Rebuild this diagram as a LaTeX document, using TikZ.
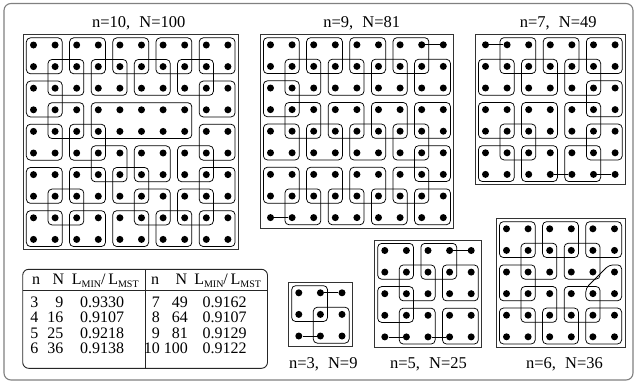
\documentclass[tikz,border=0pt]{standalone}
\usepackage{fontspec}
\setmainfont{Liberation Serif}
\newcommand\QQ[2]{\draw[sq] ({#1-0.33},{#2-0.33}) rectangle ({#1+1.33},{#2+1.33});}
\newcommand\RR[4]{\draw[sq] ({#1-0.33},{#2-0.33}) rectangle ({#3+0.33},{#4+0.33});}
\newcommand\GridDots[2]{%
  \draw[gframe] (0.514,0.514) rectangle ({#2+0.486},{#2+0.486});
  \foreach \c in {1,...,#2}{\foreach \r in {1,...,#2}{\node[pt] (#1-\c-\r) at (\c,\r) {};}}}
\newcommand\SG[5]{\draw[seg] (#1-#2-#3) -- (#1-#4-#5);}
\newcommand\Sb[1]{\raisebox{-3.3pt}{\fontsize{10}{10}\selectfont #1}}
\newcommand\Lhead{L\Sb{MIN}/\,L\Sb{MST}}
\begin{document}
\begin{tikzpicture}[x=1pt,y=-1pt,
  sq/.style={draw=black,line width=0.75pt,rounded corners=4pt},
  seg/.style={draw=black,line width=0.75pt},
  pt/.style={circle,fill=black,inner sep=0pt,minimum size=7pt},
  gframe/.style={draw=black!80,line width=0.9pt},
  oframe/.style={draw=black!50,line width=1.1pt,rounded corners=7pt},
  tframe/.style={draw=black!85,line width=0.9pt,rounded corners=6pt},
  lbl/.style={font=\fontsize{16.5}{18}\selectfont,inner sep=0pt,anchor=base},
  num/.style={font=\fontsize{16}{18}\selectfont,inner sep=0pt},
  gs/.style={x=21.6pt,y=-21.6pt}]
\useasboundingbox (0,0) rectangle (637,383);
\draw[oframe] (4,3.5) rectangle (633,380);
% ---------------- n=10
\begin{scope}[shift={(11.9,23.4)},gs]
\GridDots{a}{10}
\QQ11 \QQ31 \QQ51 \QQ71 \QQ91
\QQ22 \QQ42 \QQ62 \QQ82
\QQ13 \QQ93
\RR4485
\QQ24 \QQ15 \QQ35 \QQ46
\QQ95 \QQ86 \QQ66
\QQ17 \QQ37 \QQ57 \QQ97
\QQ28 \QQ68 \QQ88
\QQ19 \QQ39 \QQ59 \QQ79 \QQ99
\end{scope}
% ---------------- n=9
\begin{scope}[shift={(248.9,23.2)},gs]
\GridDots{b}{9}
\QQ11 \QQ31 \QQ51 \QQ71
\QQ22 \QQ42 \QQ62 \QQ82
\QQ13
\QQ24 \QQ44 \QQ64 \QQ84
\QQ15 \QQ35 \QQ55 \QQ75
\QQ86
\QQ17 \QQ37 \QQ57 \QQ77
\QQ28 \QQ48 \QQ68 \QQ88
\SG{b}{8}{1}{9}{1}
\SG{b}{1}{9}{2}{9}
\end{scope}
% ---------------- n=7
\begin{scope}[shift={(463.9,23.2)},gs]
\GridDots{c}{7}
\QQ21 \QQ41 \QQ61
\QQ12 \QQ32 \QQ52
\QQ63
\QQ14 \QQ34 \QQ54
\QQ25 \QQ65
\QQ16 \QQ36 \QQ56
\SG{c}{1}{1}{2}{1}
\SG{c}{4}{7}{5}{7}
\SG{c}{6}{7}{7}{7}
\end{scope}
% ---------------- n=3
\begin{scope}[shift={(277.2,271.2)},gs]
\GridDots{d}{3}
\QQ11 \QQ22
\SG{d}{2}{1}{3}{1}
\SG{d}{1}{3}{2}{3}
\end{scope}
% ---------------- n=5
\begin{scope}[shift={(363.2,228.9)},gs]
\GridDots{e}{5}
\QQ11 \QQ31 \QQ22 \QQ42 \QQ13 \QQ24 \QQ44
\SG{e}{4}{1}{5}{1}
\SG{e}{1}{5}{2}{5}
\SG{e}{3}{5}{4}{5}
\end{scope}
% ---------------- n=6
\begin{scope}[shift={(484.9,207.2)},gs]
\GridDots{f}{6}
\QQ11 \QQ31 \QQ51
\QQ22 \QQ42
\QQ13
\QQ24 \QQ44
\QQ15 \QQ35 \QQ55
\draw[sq] (6.33,2.67) -- (5.75,2.67) -- (4.67,3.75) -- (4.67,4.33) -- (6.33,4.33) -- cycle;
\end{scope}
% ---------------- titles
\node[lbl] (t10) at (138.7,27.5) {n=10,\hspace{0.55em}N=100};
\node[lbl] (t9) at (361.7,27.5) {n=9,\hspace{0.55em}N=81};
\node[lbl] (t7) at (558.3,27.5) {n=7,\hspace{0.55em}N=49};
\node[lbl] (t3) at (323.3,368.5) {n=3,\hspace{0.55em}N=9};
\node[lbl] (t5) at (428.5,368.5) {n=5,\hspace{0.55em}N=25};
\node[lbl] (t6) at (564.5,368.5) {n=6,\hspace{0.55em}N=36};
% ---------------- table
\draw[tframe] (22.7,269.3) rectangle (267.5,368.3);
\draw[line width=0.9pt,draw=black!85] (22.7,290) -- (267.5,290);
\draw[line width=0.9pt,draw=black!85] (145,269.3) -- (145,368.3);
\node[lbl,font=\fontsize{16}{18}\selectfont] (h1) at (36,284.5) {n};
\node[lbl,font=\fontsize{16}{18}\selectfont] (h2) at (58.3,284.5) {N};
\node[lbl,font=\fontsize{16}{18}\selectfont] (h3) at (105.3,284.5) {\Lhead};
\node[lbl,font=\fontsize{16}{18}\selectfont] (h4) at (155,284.5) {n};
\node[lbl,font=\fontsize{16}{18}\selectfont] (h5) at (181.5,284.5) {N};
\node[lbl,font=\fontsize{16}{18}\selectfont] (h6) at (227.6,284.5) {\Lhead};
\foreach \a/\b/\v [count=\i] in {3/9/0.9330,4/16/0.9107,5/25/0.9218,6/36/0.9138}{
  \node[num,anchor=base east] (ln\i) at (38.5,{291.4+15.6*\i}) {\a};
  \node[num,anchor=base east] (lN\i) at (63.5,{291.4+15.6*\i}) {\b};
  \node[num,anchor=base west] (lv\i) at (80,{291.4+15.6*\i}) {\v};}
\foreach \a/\b/\v [count=\i] in {7/49/0.9162,8/64/0.9107,9/81/0.9129,10/100/0.9122}{
  \node[num,anchor=base east] (rn\i) at (160,{291.4+15.6*\i}) {\a};
  \node[num,anchor=base east] (rN\i) at (188,{291.4+15.6*\i}) {\b};
  \node[num,anchor=base west] (rv\i) at (202.3,{291.4+15.6*\i}) {\v};}
\end{tikzpicture}
\end{document}
